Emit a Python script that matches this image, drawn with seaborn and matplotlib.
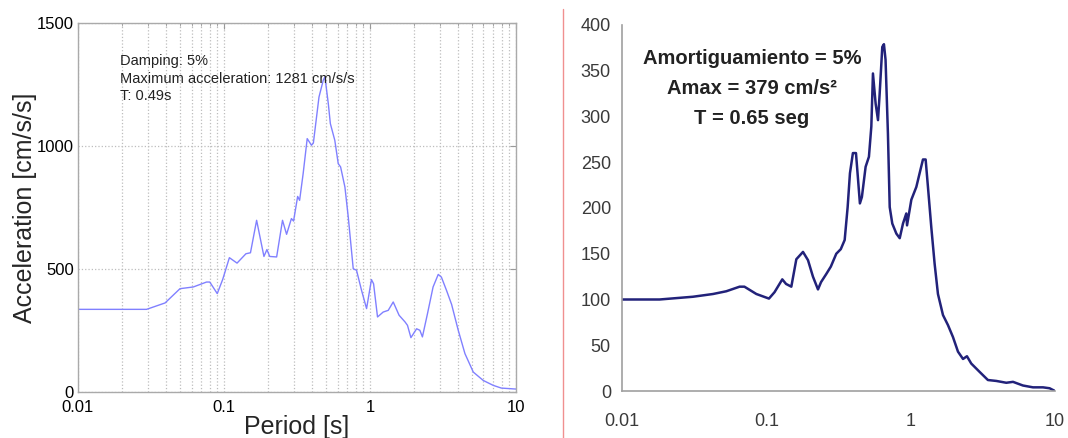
import matplotlib
matplotlib.use("Agg")
import matplotlib.pyplot as plt
import matplotlib.ticker as mticker
from matplotlib.lines import Line2D
import pandas as pd
import seaborn as sns

# left spectrum
left_period = [0.01, 0.0295, 0.0395, 0.05, 0.0617, 0.076, 0.08, 0.09, 0.098, 0.109,
               0.123, 0.1415, 0.152, 0.1675, 0.188, 0.197, 0.206, 0.2297, 0.252, 0.2687,
               0.29, 0.30, 0.32, 0.33, 0.349, 0.372, 0.398, 0.41, 0.448, 0.479,
               0.492, 0.519, 0.536, 0.575, 0.607, 0.63, 0.6745, 0.711, 0.769, 0.81,
               0.877, 0.949, 1.025, 1.06, 1.128, 1.233, 1.336, 1.445, 1.585, 1.74,
               1.81, 1.91, 2.09, 2.2, 2.29, 2.48, 2.71, 2.94, 3.09, 3.35,
               3.63, 4.03, 4.48, 5.11, 5.98, 7.0, 7.95, 10.0]
left_accel = [336, 336, 362, 420, 427, 447, 447, 400, 457, 546,
              524, 562, 566, 698, 551, 579, 551, 549, 698, 641,
              705, 695, 795, 779, 888, 1030, 1003, 1012, 1199, 1267,
              1281, 1172, 1091, 1023, 928, 915, 833, 711, 501, 495,
              413, 339, 457, 440, 305, 325, 332, 366, 312, 285,
              271, 221, 257, 251, 224, 318, 427, 478, 467, 413,
              356, 251, 156, 81, 47, 27, 16, 12]

# right spectrum
right_period = [0.01, 0.0182, 0.031, 0.0427, 0.0528, 0.0653, 0.0705, 0.0853, 0.1043, 0.114,
                0.129, 0.137, 0.149, 0.1614, 0.1795, 0.1944, 0.2104, 0.228, 0.2394, 0.2606,
                0.28, 0.3053, 0.328, 0.349, 0.366, 0.3797, 0.398, 0.418, 0.4326, 0.445,
                0.4594, 0.4875, 0.514, 0.534, 0.548, 0.572, 0.594, 0.61, 0.636, 0.653,
                0.67, 0.696, 0.716, 0.746, 0.796, 0.84, 0.885, 0.933, 0.944, 1.011,
                1.095, 1.154, 1.217, 1.27, 1.318, 1.39, 1.466, 1.546, 1.675, 1.814,
                1.964, 2.128, 2.306, 2.455, 2.63, 3.0, 3.43, 3.92, 4.6, 5.12,
                6.0, 7.04, 8.26, 9.18, 10.0]
right_accel = [100, 100, 103, 106, 109, 114, 114, 106, 101, 108,
               122, 117, 114, 144, 152, 143, 125, 111, 119, 128,
               136, 150, 155, 165, 201, 238, 260, 260, 230, 205,
               212, 245, 256, 289, 347, 314, 296, 325, 376, 379,
               362, 281, 201, 183, 172, 167, 183, 194, 181, 209,
               223, 238, 253, 253, 223, 179, 139, 106, 83, 72,
               59, 43, 35, 38, 30, 21, 12, 11, 9, 10,
               6, 4, 4, 3, 0]

left_df = pd.DataFrame({"period": left_period, "accel": left_accel})
right_df = pd.DataFrame({"period": right_period, "accel": right_accel})

sns.set_style("white")
plt.rcParams["font.family"] = ["Liberation Sans", "DejaVu Sans"]

fig = plt.figure(figsize=(10.68, 4.38), dpi=100)
ax1 = fig.add_axes([0.073, 0.105, 0.410, 0.8425])
ax2 = fig.add_axes([0.5824, 0.1073, 0.4054, 0.8357])

# -----------------------------
# Left panel (MATLAB look)
# -----------------------------
sns.lineplot(data=left_df, x="period", y="accel", ax=ax1, color="#8080ff",
             linewidth=1.0, sort=False)
ax1.set_xscale("log")
ax1.set_xlim(0.01, 10)
ax1.set_ylim(0, 1500)
ax1.set_yticks([0, 500, 1000, 1500])
ax1.xaxis.set_major_formatter(mticker.FuncFormatter(lambda v, p: f"{v:g}"))
ax1.grid(True, which="both", axis="x", linestyle=":", color="#bdbdbd", linewidth=0.9)
ax1.grid(True, which="major", axis="y", linestyle=":", color="#bdbdbd", linewidth=0.9)
ax1.tick_params(which="both", direction="in", top=True, right=True, color="#999999",
                labelsize=12, labelcolor="black")
ax1.tick_params(axis="y", pad=3)
ax1.tick_params(axis="x", pad=6)
ax1.tick_params(which="major", length=4)
ax1.tick_params(which="minor", length=2)
for sp in ax1.spines.values():
    sp.set_color("#aaaaaa")
    sp.set_linewidth(1.0)
ax1.set_xlabel("Period [s]", fontsize=18, labelpad=0)
ax1.set_ylabel("Acceleration [cm/s/s]", fontsize=18, labelpad=0)
ax1.text(0.096, 0.915, "Damping: 5%\nMaximum acceleration: 1281 cm/s/s\nT: 0.49s",
         transform=ax1.transAxes, ha="left", va="top", fontsize=10.5,
         linespacing=1.3, color="#222222")

# -----------------------------
# Right panel (Excel look)
# -----------------------------
sns.lineplot(data=right_df, x="period", y="accel", ax=ax2, color="#22227a",
             linewidth=1.8, sort=False)
ax2.set_xscale("log")
ax2.set_xlim(0.01, 10)
ax2.set_ylim(0, 400)
ax2.set_yticks(range(0, 401, 50))
ax2.set_xticks([0.01, 0.1, 1, 10])
ax2.xaxis.set_minor_locator(mticker.NullLocator())
ax2.xaxis.set_major_formatter(mticker.FuncFormatter(lambda v, p: f"{v:g}"))
sns.despine(ax=ax2)
for sp in ["left", "bottom"]:
    ax2.spines[sp].set_color("#a0a0a0")
    ax2.spines[sp].set_linewidth(1.2)
ax2.tick_params(axis="y", direction="out", length=4, color="#a0a0a0",
                labelsize=13, labelcolor="#3a3a3a", pad=4)
ax2.tick_params(axis="x", direction="out", length=4, color="#a0a0a0",
                labelsize=13, labelcolor="#3a3a3a", pad=12)
ax2.set_xlabel("")
ax2.set_ylabel("")
ax2.text(0.30, 0.935, "Amortiguamiento = 5%\nAmax = 379 cm/s²\nT = 0.65 seg",
         transform=ax2.transAxes, ha="center", va="top", fontsize=14.5,
         fontweight="bold", linespacing=1.75, color="#222222")

# thin red divider between the two pictures
fig.add_artist(Line2D([563 / 1068, 563 / 1068], [0, 0.98], transform=fig.transFigure,
                      color="#f09090", linewidth=1.0))

fig.savefig("out.png", dpi=100)
